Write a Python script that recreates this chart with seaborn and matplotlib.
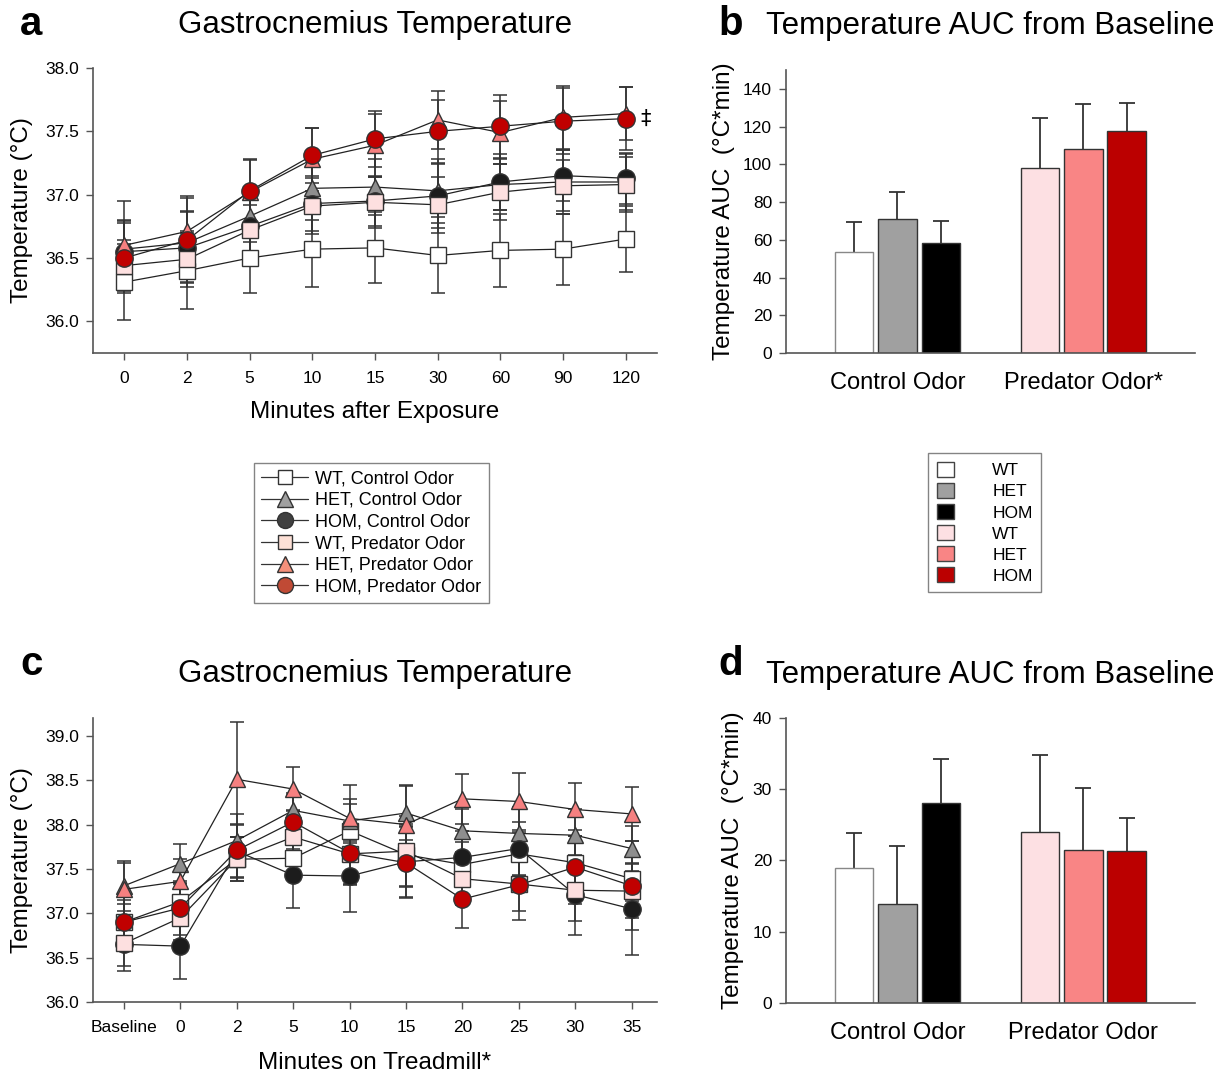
import numpy as np
import pandas as pd
import matplotlib
matplotlib.use("Agg")
import matplotlib.pyplot as plt
import seaborn as sns
from matplotlib.lines import Line2D
from matplotlib.patches import Patch

sns.set_style("ticks")
plt.rcParams["font.family"] = ["Liberation Sans", "DejaVu Sans"]
plt.rcParams["text.color"] = "black"
plt.rcParams["axes.labelcolor"] = "black"
plt.rcParams["xtick.labelcolor"] = "black"
plt.rcParams["ytick.labelcolor"] = "black"

# ---- data ----
groups = ["WT, Control Odor", "HET, Control Odor", "HOM, Control Odor",
          "WT, Predator Odor", "HET, Predator Odor", "HOM, Predator Odor"]
genotypes = ["WT", "HET", "HOM"]
odors = ["Control Odor", "Predator Odor"]

# panel a: minutes after exposure
times_a = ["0", "2", "5", "10", "15", "30", "60", "90", "120"]
mean_a = {
    "WT, Control Odor":   [36.31, 36.40, 36.50, 36.57, 36.58, 36.52, 36.56, 36.57, 36.65],
    "HET, Control Odor":  [36.57, 36.62, 36.83, 37.05, 37.06, 37.03, 37.08, 37.10, 37.10],
    "HOM, Control Odor":  [36.55, 36.58, 36.75, 36.93, 36.95, 36.99, 37.10, 37.15, 37.13],
    "WT, Predator Odor":  [36.44, 36.49, 36.72, 36.91, 36.94, 36.92, 37.02, 37.07, 37.08],
    "HET, Predator Odor": [36.60, 36.71, 37.02, 37.28, 37.39, 37.59, 37.49, 37.61, 37.64],
    "HOM, Predator Odor": [36.50, 36.64, 37.03, 37.31, 37.44, 37.50, 37.54, 37.58, 37.60],
}
se_a = {
    "WT, Control Odor":   [0.30, 0.30, 0.28, 0.30, 0.28, 0.30, 0.29, 0.28, 0.26],
    "HET, Control Odor":  [0.22, 0.25, 0.20, 0.25, 0.22, 0.25, 0.20, 0.25, 0.22],
    "HOM, Control Odor":  [0.25, 0.28, 0.22, 0.22, 0.20, 0.25, 0.22, 0.20, 0.20],
    "WT, Predator Odor":  [0.20, 0.22, 0.20, 0.22, 0.20, 0.22, 0.22, 0.20, 0.22],
    "HET, Predator Odor": [0.35, 0.28, 0.25, 0.25, 0.25, 0.23, 0.25, 0.25, 0.21],
    "HOM, Predator Odor": [0.28, 0.33, 0.25, 0.22, 0.22, 0.25, 0.25, 0.26, 0.25],
}

# panel c: minutes on treadmill
times_c = ["Baseline", "0", "2", "5", "10", "15", "20", "25", "30", "35"]
mean_c = {
    "WT, Control Odor":   [36.90, 37.13, 37.61, 37.62, 37.93, 37.66, 37.55, 37.67, 37.57, 37.39],
    "HET, Control Odor":  [37.31, 37.56, 37.82, 38.16, 38.04, 38.13, 37.93, 37.90, 37.88, 37.73],
    "HOM, Control Odor":  [36.65, 36.63, 37.70, 37.43, 37.42, 37.58, 37.63, 37.73, 37.21, 37.05],
    "WT, Predator Odor":  [36.66, 36.95, 37.61, 37.86, 37.67, 37.70, 37.39, 37.33, 37.26, 37.25],
    "HET, Predator Odor": [37.27, 37.36, 38.51, 38.40, 38.07, 38.00, 38.29, 38.26, 38.17, 38.12],
    "HOM, Predator Odor": [36.90, 37.06, 37.71, 38.03, 37.68, 37.57, 37.16, 37.32, 37.52, 37.31],
}
se_c = {
    "WT, Control Odor":   [0.20, 0.20, 0.25, 0.25, 0.30, 0.35, 0.25, 0.25, 0.30, 0.25],
    "HET, Control Odor":  [0.28, 0.22, 0.30, 0.20, 0.25, 0.30, 0.25, 0.30, 0.30, 0.25],
    "HOM, Control Odor":  [0.30, 0.37, 0.30, 0.37, 0.40, 0.40, 0.30, 0.30, 0.45, 0.52],
    "WT, Predator Odor":  [0.25, 0.25, 0.25, 0.30, 0.35, 0.40, 0.30, 0.30, 0.35, 0.30],
    "HET, Predator Odor": [0.30, 0.25, 0.65, 0.25, 0.38, 0.45, 0.28, 0.32, 0.30, 0.30],
    "HOM, Predator Odor": [0.25, 0.30, 0.30, 0.30, 0.35, 0.40, 0.33, 0.40, 0.42, 0.50],
}

# panels b and d: AUC (order WT, HET, HOM within each odor)
auc_b = {"Control Odor": [53.8, 70.8, 58.4], "Predator Odor": [98.2, 108.0, 117.6]}
auc_b_err = {"Control Odor": [15.8, 14.3, 11.7], "Predator Odor": [26.3, 24.1, 15.1]}
auc_d = {"Control Odor": [18.9, 13.9, 28.1], "Predator Odor": [24.0, 21.5, 21.3]}
auc_d_err = {"Control Odor": [5.0, 8.2, 6.2], "Predator Odor": [10.8, 8.7, 4.7]}

# ---- styles ----
face = {
    "WT, Control Odor": "#ffffff", "HET, Control Odor": "#8e8e8e",
    "HOM, Control Odor": "#1c1c1c", "WT, Predator Odor": "#fde0e0",
    "HET, Predator Odor": "#f58080", "HOM, Predator Odor": "#c00000",
}
legend_face = {
    "WT, Control Odor": "#ffffff", "HET, Control Odor": "#a0a0a0",
    "HOM, Control Odor": "#404040", "WT, Predator Odor": "#fde0d6",
    "HET, Predator Odor": "#f4907a", "HOM, Predator Odor": "#c04a35",
}
marker = {
    "WT, Control Odor": "s", "HET, Control Odor": "^", "HOM, Control Odor": "o",
    "WT, Predator Odor": "s", "HET, Predator Odor": "^", "HOM, Predator Odor": "o",
}
msize = {"s": 11, "^": 12, "o": 12.5}
bar_colors = {"Control Odor": ["#ffffff", "#a0a0a0", "#000000"],
              "Predator Odor": ["#fde0e3", "#f98585", "#bb0000"]}

AX_COL = "#555555"
TICK_FS = 12.5
LAB_FS = 17.5
TITLE_FS = 22.5

fig = plt.figure(figsize=(12.28, 10.74), dpi=100)
ax_a = fig.add_axes([0.0757, 0.6713, 0.4593, 0.2654])
ax_b = fig.add_axes([0.640, 0.6713, 0.3331, 0.2635])
ax_c = fig.add_axes([0.0757, 0.0670, 0.4593, 0.2644])
ax_d = fig.add_axes([0.640, 0.0661, 0.3331, 0.2654])


def style_axis(ax):
    sns.despine(ax=ax)
    for s in ["left", "bottom"]:
        ax.spines[s].set_color(AX_COL)
        ax.spines[s].set_linewidth(1.2)
    ax.tick_params(axis="both", direction="out", length=5, width=1,
                   color=AX_COL, labelsize=TICK_FS, pad=5)
    ax.tick_params(axis="x", pad=8)


def line_panel(ax, times, means, ses):
    x = np.arange(len(times))
    for g in groups:
        ax.errorbar(x, means[g], yerr=ses[g], fmt="none", ecolor="#333333",
                    elinewidth=1.1, capsize=5, capthick=1.1, zorder=1)
    for i, g in enumerate(groups):
        df = pd.DataFrame({"x": x, "y": means[g]})
        sns.lineplot(data=df, x="x", y="y", ax=ax, color="#222222", lw=0.9,
                     errorbar=None, marker=marker[g], markersize=msize[marker[g]],
                     markerfacecolor=face[g], markeredgecolor="#333333",
                     markeredgewidth=1.0, zorder=2 + i)
    ax.set_xticks(x)
    ax.set_xticklabels(times)
    ax.set_xlim(-0.5, len(times) - 0.5)
    style_axis(ax)


def bar_panel(ax, auc, err, ymax, yticks):
    rows = []
    for o in odors:
        for gi, gname in enumerate(genotypes):
            rows.append({"odor": o, "genotype": gname, "auc": auc[o][gi]})
    df = pd.DataFrame(rows)
    sns.barplot(data=df, x="odor", y="auc", hue="genotype", order=odors,
                hue_order=genotypes, ax=ax, width=0.7, gap=0.11,
                errorbar=None, legend=False, edgecolor="#333333", linewidth=1.0)
    bar_conts = list(ax.containers)
    for gi, cont in enumerate(bar_conts):
        for oi, bar in enumerate(cont):
            bar.set_facecolor(bar_colors[odors[oi]][gi])
            bar.set_edgecolor("#888888" if (oi == 0 and gi == 0) else "#333333")
            cx = bar.get_x() + bar.get_width() / 2
            eb = ax.errorbar(cx, bar.get_height(), yerr=[[0], [err[odors[oi]][gi]]],
                             fmt="none", ecolor="#333333", elinewidth=1.3,
                             capsize=6, capthick=1.3, zorder=0)
            eb[1][0].set_visible(False)
    ax.set_xlim(-0.6, 1.6)
    ax.set_ylim(0, ymax)
    ax.set_yticks(yticks)
    ax.set_xlabel("")
    ax.set_ylabel("Temperature AUC  (°C*min)", fontsize=LAB_FS, labelpad=6)
    style_axis(ax)
    ax.tick_params(axis="x", length=0, labelsize=LAB_FS - 0.5, pad=14)


# panel a
line_panel(ax_a, times_a, mean_a, se_a)
ax_a.set_ylim(35.75, 38.0)
ax_a.set_yticks(np.arange(36.0, 38.01, 0.5))
ax_a.set_yticklabels([f"{v:.1f}" for v in np.arange(36.0, 38.01, 0.5)])
ax_a.set_xlabel("Minutes after Exposure", fontsize=LAB_FS, labelpad=11)
ax_a.set_ylabel("Temperature (°C)", fontsize=LAB_FS, labelpad=9)
ax_a.set_title("Gastrocnemius Temperature", fontsize=TITLE_FS, pad=25)
ax_a.text(len(times_a) - 1 + 0.32, mean_a["HOM, Predator Odor"][-1], "‡",
          fontsize=15, ha="center", va="center", family="DejaVu Sans")

# panel c
line_panel(ax_c, times_c, mean_c, se_c)
ax_c.set_xlim(-0.55, len(times_c) - 0.55)
ax_c.set_ylim(36.0, 39.2)
ax_c.set_yticks(np.arange(36.0, 39.01, 0.5))
ax_c.set_yticklabels([f"{v:.1f}" for v in np.arange(36.0, 39.01, 0.5)])
ax_c.set_xlabel("Minutes on Treadmill*", fontsize=LAB_FS, labelpad=12)
ax_c.set_ylabel("Temperature (°C)", fontsize=LAB_FS, labelpad=9)
ax_c.set_title("Gastrocnemius Temperature", fontsize=TITLE_FS, pad=26)

# panel b / d
bar_panel(ax_b, auc_b, auc_b_err, 150, np.arange(0, 141, 20))
ax_b.set_xticks([0, 1])
ax_b.set_xticklabels(["Control Odor", "Predator Odor*"])
ax_b.set_title("Temperature AUC from Baseline", fontsize=TITLE_FS, pad=26)

bar_panel(ax_d, auc_d, auc_d_err, 40, np.arange(0, 41, 10))
ax_d.set_xticks([0, 1])
ax_d.set_xticklabels(["Control Odor", "Predator Odor"])
ax_d.set_title("Temperature AUC from Baseline", fontsize=TITLE_FS, pad=25)

# panel letters
for lab, (px, py) in zip("abcd", [(20, 24), (718, 24), (20, 664), (718, 664)]):
    fig.text(px / 1228, 1 - py / 1074, lab, fontsize=29, fontweight="bold",
             ha="left", va="center")

# legends
line_handles = [Line2D([0], [0], color="#333333", lw=0.9, marker=marker[g],
                       markersize=msize[marker[g]] - 1, markerfacecolor=legend_face[g],
                       markeredgecolor="#333333") for g in groups]
leg1 = fig.legend(line_handles, groups, loc="upper left",
                  bbox_to_anchor=(254 / 1228, 1 - 463 / 1074), fontsize=13,
                  frameon=True, fancybox=False, edgecolor="#666666",
                  handlelength=2.6, handletextpad=0.4, labelspacing=0.26,
                  borderpad=0.4, borderaxespad=0)
leg1.get_frame().set_linewidth(1.0)

bar_handles = [Patch(facecolor=c, edgecolor="#444444", lw=1.0)
               for o in odors for c in bar_colors[o]]
leg2 = fig.legend(bar_handles, genotypes * 2, loc="upper left",
                  bbox_to_anchor=(928 / 1228, 1 - 453 / 1074), fontsize=12.5,
                  frameon=True, fancybox=False, edgecolor="#666666",
                  handlelength=1.0, handleheight=1.0, handletextpad=2.2,
                  labelspacing=0.25, borderpad=0.5, borderaxespad=0)
leg2.get_frame().set_linewidth(1.0)

fig.savefig("out.png", dpi=100)
